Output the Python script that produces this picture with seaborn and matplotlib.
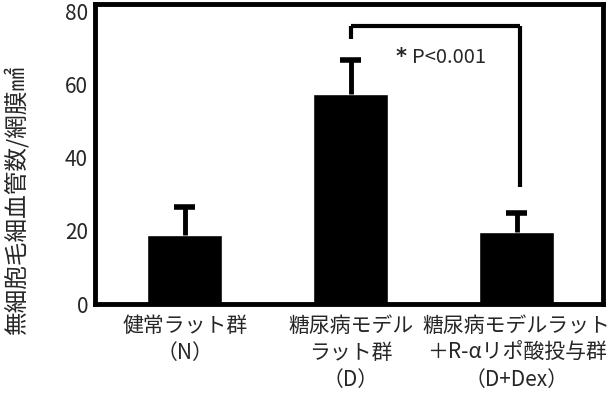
import seaborn as sns
import matplotlib.pyplot as plt
import pandas as pd

# データ
groups = ['健常ラット群\n（N）', '糖尿病モデル\nラット群\n（D）', '糖尿病モデルラット\n＋R-αリポ酸投与群\n（D+Dex）']
means = [18.9, 57.3, 19.7]
sd = [7.7, 9.5, 5.2]
yticks = [0, 20, 40, 60, 80]
bracket_y = [72.3, 75.9, 75.9, 32.0]
pval_text = 'P<0.001'

df = pd.DataFrame({'group': groups, 'value': means})

sns.set_theme(style='white')
plt.rcParams['font.family'] = ['Noto Sans CJK JP', 'DejaVu Sans']

fig = plt.figure(figsize=(6.15, 3.98), dpi=100)
ax = fig.add_axes([0.1545, 0.236, 0.826, 0.754])

sns.barplot(data=df, x='group', y='value', color='black', width=0.45,
            saturation=1, errorbar=None, ax=ax)

# 上側のみのエラーバー
xs = list(range(len(groups)))
tops = [m + s for m, s in zip(means, sd)]
ax.vlines(xs, means, tops, color='black', lw=3.5)
ax.hlines(tops, [x - 0.065 for x in xs], [x + 0.065 for x in xs], color='black', lw=4)

# 有意差のブラケット
ax.plot([1, 1], bracket_y[:2], color='black', lw=3, solid_capstyle='butt')
ax.plot([1, 2.02], bracket_y[1:3], color='black', lw=3, solid_capstyle='butt')
ax.plot([2.02, 2.02], bracket_y[2:], color='black', lw=3, solid_capstyle='butt')
ax.text(1.27, 67.4, '*', fontsize=15, fontweight='bold', family='DejaVu Sans', va='center', ha='left')
ax.text(1.37, 67.4, pval_text, fontsize=14.5, va='center', ha='left')

ax.set_xlim(-0.54, 2.52)
ax.set_ylim(0, 82)
ax.set_yticks(yticks)
ax.tick_params(axis='y', labelsize=15, length=0, pad=5)
ax.tick_params(axis='x', labelsize=15, length=0, pad=8)
for lbl in ax.get_xticklabels():
    lbl.set_linespacing(1.3)
for s in ax.spines.values():
    s.set_linewidth(3.5)
    s.set_color('black')
ax.set_xlabel('')
ax.set_ylabel('無細胞毛細血管数/網膜㎟', fontsize=17)
ax.yaxis.set_label_coords(-0.13, 0.35)

fig.savefig('out.png', dpi=100)
